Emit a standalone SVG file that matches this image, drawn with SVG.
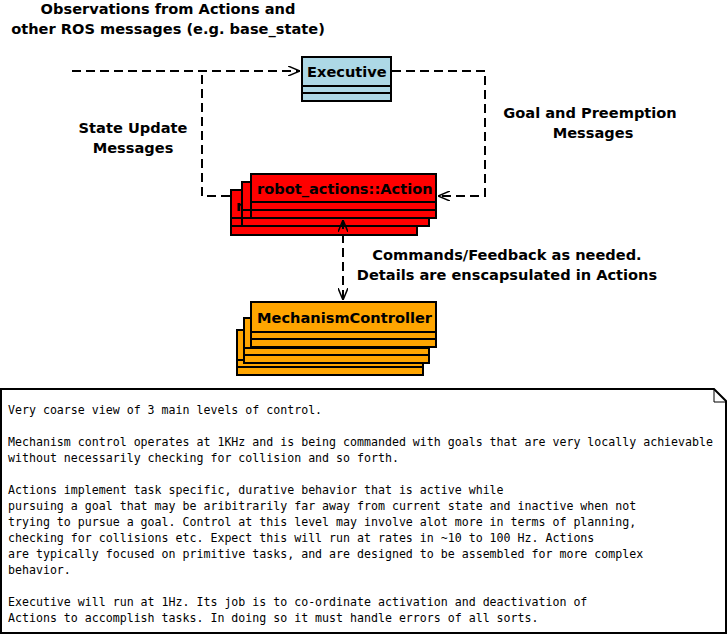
<svg xmlns="http://www.w3.org/2000/svg" width="728" height="635" viewBox="0 0 728 635">
<defs>
<style>
.lbl{font-family:"DejaVu Sans",sans-serif;font-weight:bold;font-size:14.6px;fill:#000;text-anchor:middle}
.ttl{font-family:"DejaVu Sans",sans-serif;font-weight:bold;font-size:14.6px;fill:#000}
.box{stroke:#000;stroke-width:2}
.conn{fill:none;stroke:#000;stroke-width:2;stroke-dasharray:9,5}
.note{font-family:"DejaVu Sans Mono",monospace;font-size:11.6px;fill:#000}
</style>
<marker id="open" viewBox="0 0 12 10" refX="12" refY="5" markerWidth="12" markerHeight="10" markerUnits="userSpaceOnUse" orient="auto-start-reverse">
<path d="M0,0 L12,5 L0,10" fill="none" stroke="#000" stroke-width="1.5"/>
</marker>
</defs>
<rect width="728" height="635" fill="#fff"/>

<g id="executive">
<rect class="box" x="302" y="57" width="89" height="44" fill="#add8e6"/>
<line class="box" x1="302" y1="86" x2="391" y2="86"/>
<line class="box" x1="302" y1="93" x2="391" y2="93"/>
<text class="ttl" x="307" y="77">Executive</text>
</g>

<g id="action">
<rect class="box" x="231" y="190" width="186" height="45" fill="#f00"/>
<line class="box" x1="231" y1="218" x2="417" y2="218"/>
<line class="box" x1="231" y1="226" x2="417" y2="226"/>
<text class="ttl" x="236" y="211">r</text>
<rect class="box" x="242" y="182" width="187" height="44" fill="#f00"/>
<line class="box" x1="242" y1="210" x2="429" y2="210"/>
<line class="box" x1="242" y1="218" x2="429" y2="218"/>
<rect class="box" x="251" y="174" width="185" height="44" fill="#f00"/>
<line class="box" x1="251" y1="202" x2="436" y2="202"/>
<line class="box" x1="251" y1="210" x2="436" y2="210"/>
<text class="ttl" x="257" y="194">robot_actions::Action</text>
</g>

<g id="mechanism">
<rect class="box" x="237" y="330" width="186" height="45" fill="#ffa500"/>
<line class="box" x1="237" y1="360" x2="423" y2="360"/>
<line class="box" x1="237" y1="367" x2="423" y2="367"/>
<rect class="box" x="244" y="318" width="185" height="45" fill="#ffa500"/>
<line class="box" x1="244" y1="348" x2="429" y2="348"/>
<line class="box" x1="244" y1="355" x2="429" y2="355"/>
<rect class="box" x="251" y="302" width="185" height="45" fill="#ffa500"/>
<line class="box" x1="251" y1="332" x2="436" y2="332"/>
<line class="box" x1="251" y1="339" x2="436" y2="339"/>
<text class="ttl" x="257" y="323">MechanismController</text>
</g>

<g id="connectors">
<path class="conn" d="M72,71 H300" marker-end="url(#open)"/>
<path class="conn" d="M392,71 H485 V196 H438" marker-end="url(#open)"/>
<path class="conn" d="M230,196 H202 V71"/>
<path class="conn" d="M343,220 V300" marker-start="url(#open)" marker-end="url(#open)"/>
</g>

<g id="labels">
<text class="lbl" x="168" y="14">Observations from Actions and</text>
<text class="lbl" x="168" y="34">other ROS messages (e.g. base_state)</text>
<text class="lbl" x="133" y="133">State Update</text>
<text class="lbl" x="133" y="153">Messages</text>
<text class="lbl" x="590" y="118">Goal and Preemption</text>
<text class="lbl" x="593" y="138">Messages</text>
<text class="lbl" x="507" y="260">Commands/Feedback as needed.</text>
<text class="lbl" x="507" y="280">Details are enscapsulated in Actions</text>
</g>

<g id="note">
<path d="M1,389 H714 L726,401 V633 H1 Z" fill="#fff" stroke="#000" stroke-width="2"/>
<path d="M714,389 V402 H726" fill="none" stroke="#000" stroke-width="1"/>
<text class="note" x="8" y="414">Very coarse view of 3 main levels of control.</text>
<text class="note" x="8" y="446">Mechanism control operates at 1KHz and is being commanded with goals that are very locally achievable</text>
<text class="note" x="8" y="462">without necessarily checking for collision and so forth.</text>
<text class="note" x="8" y="494">Actions implement task specific, durative behavior that is active while</text>
<text class="note" x="8" y="510">pursuing a goal that may be aribitrarily far away from current state and inactive when not</text>
<text class="note" x="8" y="526">trying to pursue a goal. Control at this level may involve alot more in terms of planning,</text>
<text class="note" x="8" y="542">checking for collisions etc. Expect this will run at rates in ~10 to 100 Hz. Actions</text>
<text class="note" x="8" y="558">are typically focused on primitive tasks, and are designed to be assembled for more complex</text>
<text class="note" x="8" y="574">behavior.</text>
<text class="note" x="8" y="606">Executive will run at 1Hz. Its job is to co-ordinate activation and deactivation of</text>
<text class="note" x="8" y="622">Actions to accomplish tasks. In doing so it must handle errors of all sorts.</text>
</g>
</svg>
